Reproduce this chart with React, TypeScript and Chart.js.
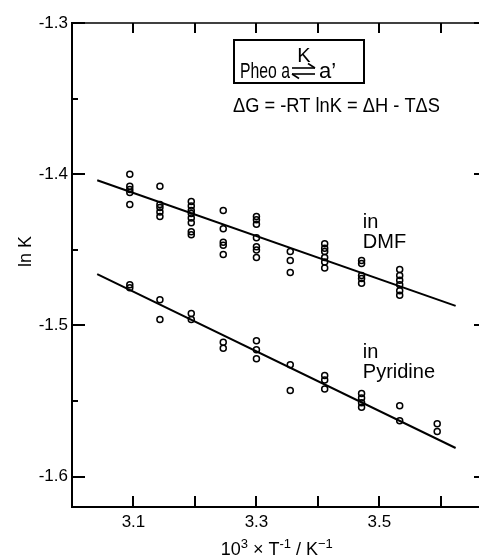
import React, { useEffect, useRef } from 'react';
import { Chart, registerables } from 'chart.js';

Chart.register(...registerables);

const FONT = "'Liberation Sans', 'DejaVu Sans', Arial, sans-serif";

// Pheophytin a ⇌ a' equilibrium, ln K vs 10^3/T
const dmfX = [
  3.094, 3.094, 3.094, 3.094, 3.094,
  3.143, 3.143, 3.143, 3.143, 3.143,
  3.194, 3.194, 3.194, 3.194, 3.194, 3.194, 3.194, 3.194,
  3.246, 3.246, 3.246, 3.246, 3.246,
  3.3, 3.3, 3.3, 3.3, 3.3, 3.3, 3.3,
  3.355, 3.355, 3.355,
  3.411, 3.411, 3.411, 3.411, 3.411, 3.411,
  3.471, 3.471, 3.471, 3.471, 3.471,
  3.533, 3.533, 3.533, 3.533, 3.533, 3.533,
];
const dmfY = [
  -1.4, -1.408, -1.41, -1.412, -1.42,
  -1.408, -1.42, -1.422, -1.425, -1.428,
  -1.418, -1.421, -1.424, -1.426, -1.429, -1.432, -1.438, -1.44,
  -1.424, -1.436, -1.445, -1.447, -1.453,
  -1.428, -1.43, -1.433, -1.442, -1.448, -1.45, -1.455,
  -1.451, -1.457, -1.465,
  -1.446, -1.449, -1.451, -1.455, -1.458, -1.462,
  -1.457, -1.459, -1.467, -1.469, -1.472,
  -1.463, -1.467, -1.47, -1.473, -1.477, -1.48,
];

const pyrX = [
  3.094, 3.094,
  3.143, 3.143,
  3.194, 3.194,
  3.246, 3.246,
  3.3, 3.3, 3.3,
  3.355, 3.355,
  3.411, 3.411, 3.411,
  3.471, 3.471, 3.471, 3.471,
  3.533, 3.533,
  3.594, 3.594,
];
const pyrY = [
  -1.473, -1.475,
  -1.483, -1.496,
  -1.492, -1.496,
  -1.511, -1.515,
  -1.51, -1.516, -1.522,
  -1.526, -1.543,
  -1.533, -1.536, -1.542,
  -1.545, -1.548, -1.551, -1.554,
  -1.553, -1.563,
  -1.565, -1.57,
];

// fitted regression lines
const dmfLineX = [3.041, 3.624];
const dmfLineY = [-1.404, -1.487];
const pyrLineX = [3.041, 3.624];
const pyrLineY = [-1.466, -1.581];

// axes
const xMin = 3.0;
const xMax = 3.675;
const yMin = -1.62;
const yMax = -1.3;
const xTickValues = [3.1, 3.2, 3.3, 3.4, 3.5, 3.6];
const xTickLabels = ['3.1', '', '3.3', '', '3.5', ''];
const yMajorValues = [-1.3, -1.4, -1.5, -1.6];
const yMajorLabels = ['-1.3', '-1.4', '-1.5', '-1.6'];
const yMinorValues = [-1.35, -1.45, -1.55];

const pts = (xs: number[], ys: number[]) => xs.map((x, i) => ({ x, y: ys[i] }));

const decorPlugin = {
  id: 'decor',
  afterDraw(chart: any) {
    const { ctx, chartArea: ca, scales } = chart;
    const xs = scales.x;
    const ys = scales.y;
    ctx.save();
    ctx.strokeStyle = '#000';
    ctx.fillStyle = '#000';
    const seg = (x1: number, y1: number, x2: number, y2: number) => {
      ctx.beginPath();
      ctx.moveTo(x1, y1);
      ctx.lineTo(x2, y2);
      ctx.stroke();
    };
    // top and right frame
    ctx.lineWidth = 1.6;
    seg(ca.left - 1, ca.top, ca.right, ca.top);
    seg(ca.right, ca.top, ca.right, ca.bottom);
    // ticks (inward)
    ctx.lineWidth = 2;
    xTickValues.forEach((v) => {
      const px = Math.round(xs.getPixelForValue(v));
      seg(px, ca.bottom, px, ca.bottom - 11);
      seg(px, ca.top, px, ca.top + 10);
    });
    yMajorValues.forEach((v) => {
      const py = Math.round(ys.getPixelForValue(v));
      seg(ca.left, py, ca.left + 13, py);
      seg(ca.right, py, ca.right - 13, py);
    });
    yMinorValues.forEach((v) => {
      const py = Math.round(ys.getPixelForValue(v));
      seg(ca.left, py, ca.left + 6, py);
      seg(ca.right, py, ca.right - 6, py);
    });

    // y-axis title
    ctx.save();
    ctx.font = `18px ${FONT}`;
    ctx.textAlign = 'center';
    ctx.textBaseline = 'middle';
    ctx.translate(26, ys.getPixelForValue(-1.451));
    ctx.rotate(-Math.PI / 2);
    ctx.fillText('ln K', 0, 0);
    ctx.restore();

    // x-axis title: 10^3 × T^-1 / K^-1
    const big = `18px ${FONT}`;
    const small = `13px ${FONT}`;
    const parts: [string, boolean][] = [
      ['10', false], ['3', true], [' × ', false], ['T', false], ['-1', true],
      [' / ', false], ['K', false], ['−1', true],
    ];
    let total = 0;
    parts.forEach(([t, sup]) => {
      ctx.font = sup ? small : big;
      total += ctx.measureText(t).width;
    });
    let cx = xs.getPixelForValue(3.333) - total / 2;
    const base = 555;
    ctx.textAlign = 'left';
    ctx.textBaseline = 'alphabetic';
    parts.forEach(([t, sup]) => {
      ctx.font = sup ? small : big;
      ctx.fillText(t, cx, sup ? base - 7 : base);
      cx += ctx.measureText(t).width;
    });

    // series labels
    ctx.font = `20px ${FONT}`;
    ctx.textAlign = 'left';
    ctx.textBaseline = 'alphabetic';
    const lx = xs.getPixelForValue(3.473);
    ctx.fillText('in', lx, ys.getPixelForValue(-1.4355));
    ctx.fillText('DMF', lx, ys.getPixelForValue(-1.4488));
    ctx.fillText('in', lx, ys.getPixelForValue(-1.5215));
    ctx.fillText('Pyridine', lx, ys.getPixelForValue(-1.5347));

    // equilibrium box
    ctx.lineWidth = 2;
    ctx.strokeRect(234, 40, 130, 43);
    ctx.font = `22px ${FONT}`;
    ctx.fillText('Pheo a', 240, 78, 50);
    ctx.font = `20px ${FONT}`;
    ctx.textAlign = 'center';
    ctx.fillText('K', 304, 62);
    ctx.textAlign = 'left';
    ctx.font = `22px ${FONT}`;
    ctx.fillText('a’', 319, 78, 18);
    ctx.lineWidth = 1.6;
    seg(292, 68, 315, 68);
    seg(315, 68, 308, 63.5);
    seg(292, 74, 315, 74);
    seg(292, 74, 299, 78.5);

    // thermodynamic relation
    ctx.font = `20px ${FONT}`;
    ctx.fillText('ΔG = -RT lnK = ΔH - TΔS', 233, 112, 207);
    ctx.restore();
  },
};

export default function App() {
  const ref = useRef<HTMLCanvasElement>(null);
  useEffect(() => {
    const canvas = ref.current;
    if (!canvas) return;
    const pointStyle = {
      showLine: false,
      pointRadius: 3,
      pointBorderWidth: 1.5,
      pointBorderColor: '#000',
      pointBackgroundColor: 'rgba(0,0,0,0)',
      borderColor: '#000',
      backgroundColor: 'rgba(0,0,0,0)',
    };
    const lineStyle = {
      showLine: true,
      pointRadius: 0,
      borderColor: '#000',
      borderWidth: 2,
      fill: false,
    };
    const chart = new Chart(canvas, {
      type: 'scatter',
      data: {
        datasets: [
          { label: 'DMF', data: pts(dmfX, dmfY), ...pointStyle },
          { label: 'Pyridine', data: pts(pyrX, pyrY), ...pointStyle },
          { label: 'DMF fit', data: pts(dmfLineX, dmfLineY), ...lineStyle },
          { label: 'Pyridine fit', data: pts(pyrLineX, pyrLineY), ...lineStyle },
        ] as any,
      },
      options: {
        responsive: false,
        animation: false,
        devicePixelRatio: 1,
        layout: { padding: { top: 23, right: 13, left: 0, bottom: 0 } },
        plugins: { legend: { display: false }, tooltip: { enabled: false } },
        scales: {
          x: {
            type: 'linear',
            min: xMin,
            max: xMax,
            grid: { display: false, drawTicks: false },
            border: { display: true, color: '#000', width: 2 },
            afterBuildTicks: (s: any) => {
              s.ticks = xTickValues.map((v) => ({ value: v }));
            },
            afterFit: (s: any) => {
              s.height = 52;
            },
            ticks: {
              autoSkip: false,
              maxRotation: 0,
              padding: 5,
              color: '#000',
              font: { family: FONT, size: 17 },
              callback: (_v: any, i: number) => xTickLabels[i],
            },
          },
          y: {
            type: 'linear',
            min: yMin,
            max: yMax,
            grid: { display: false, drawTicks: false },
            border: { display: true, color: '#000', width: 2 },
            afterBuildTicks: (s: any) => {
              s.ticks = yMajorValues.map((v) => ({ value: v }));
            },
            afterFit: (s: any) => {
              s.width = 72;
            },
            ticks: {
              autoSkip: false,
              padding: 4,
              color: '#000',
              font: { family: FONT, size: 17 },
              callback: (_v: any, i: number) => yMajorLabels[i],
            },
          },
        },
      } as any,
      plugins: [decorPlugin],
    });
    return () => chart.destroy();
  }, []);
  return (
    <div
      style={{
        position: 'fixed',
        left: 0,
        top: 0,
        width: 479,
        height: 559,
        overflow: 'hidden',
        background: '#fff',
      }}
    >
      <canvas ref={ref} width={500} height={559} style={{ display: 'block', width: 500, height: 559 }} />
    </div>
  );
}
